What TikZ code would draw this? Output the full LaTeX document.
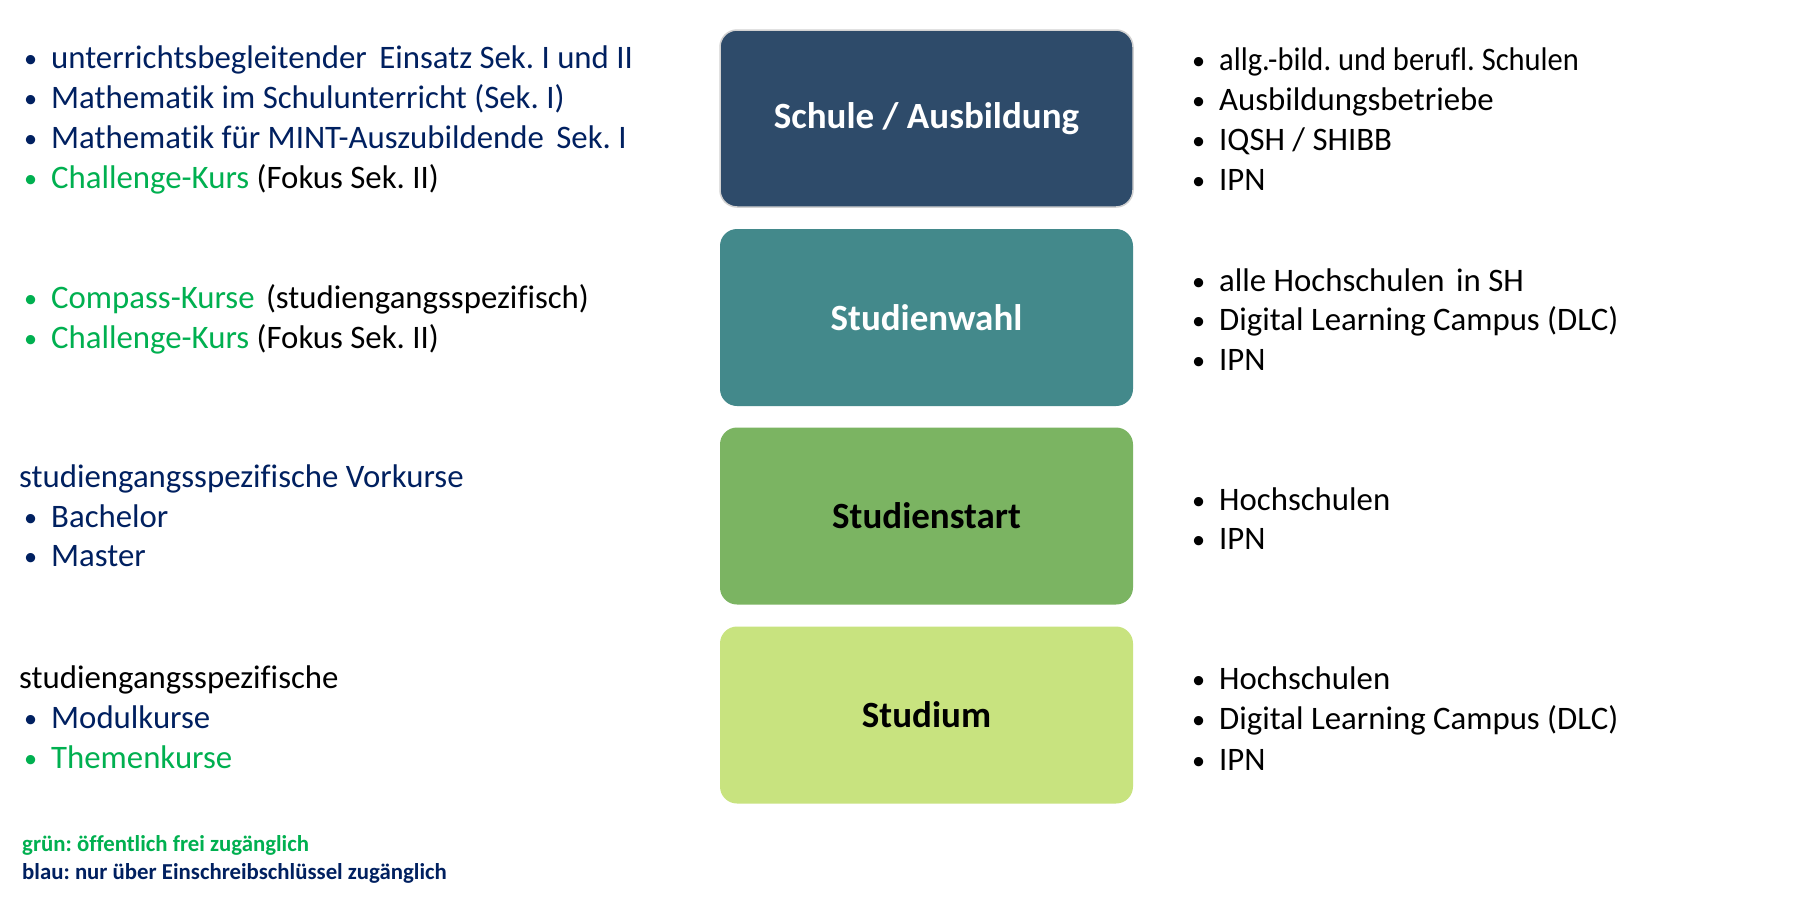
\documentclass[tikz,border=0pt]{standalone}
\usepackage{fontspec}
\setmainfont{Carlito}[Ligatures={NoCommon}]
\frenchspacing
\definecolor{navy}{RGB}{0,32,96}
\definecolor{grn}{RGB}{0,176,80}
\definecolor{boxA}{RGB}{46,75,106}
\definecolor{boxB}{RGB}{67,137,139}
\definecolor{boxC}{RGB}{123,180,98}
\definecolor{boxD}{RGB}{200,227,127}
\tikzset{
  stage/.style={rounded corners=17pt, minimum width=413pt, minimum height=177pt, inner sep=0pt, font=\fontsize{37}{40}\selectfont\bfseries},
  ltxt/.style={anchor=base west, inner sep=0pt, font=\fontsize{32.8}{38}\selectfont},
  legend/.style={anchor=base west, inner sep=0pt, font=\fontsize{22.8}{26}\selectfont\bfseries},
}
\newcommand{\lbul}[1]{\makebox[27pt][l]{\textcolor{#1}{\raisebox{1pt}{\scalebox{0.8}{•}}}}}
\newcommand{\rbul}{\makebox[27pt][l]{\raisebox{1pt}{\scalebox{0.8}{•}}}}
\begin{document}
\begin{tikzpicture}[x=1pt,y=1pt]
\useasboundingbox (0,0) rectangle (1818,-900);
\fill[white] (0,0) rectangle (1818,-900);
% stage boxes
\node[stage, fill=boxA, draw=gray!35, line width=1.5pt, text=white] (schule) at (926.5,-118.5) {Schule / Ausbildung};
\node[stage, fill=boxB, text=white] (wahl) at (926.5,-317.5) {Studienwahl};
\node[stage, fill=boxC, text=black] (start) at (926.5,-516) {Studienstart};
\node[stage, fill=boxD, text=black] (studium) at (926.5,-715) {Studium};
% left group 1
\node[ltxt, text=navy] (l11) at (24,-68) {\lbul{navy}unterrichtsbegleitender\hspace{5pt} Einsatz Sek. I und II};
\node[ltxt, text=navy] (l12) at (24,-108) {\lbul{navy}Mathematik im Schulunterricht (Sek. I)};
\node[ltxt, text=navy] (l13) at (24,-148) {\lbul{navy}Mathematik für MINT-Auszubildende\hspace{5pt} Sek. I};
\node[ltxt] (l14) at (24,-188) {\lbul{grn}\textcolor{grn}{Challenge-Kurs} (Fokus Sek. II)};
% left group 2
\node[ltxt] (l21) at (24,-308) {\lbul{grn}\textcolor{grn}{Compass-Kurse}\hspace{4pt} (studiengangsspezifisch)};
\node[ltxt] (l22) at (24,-348) {\lbul{grn}\textcolor{grn}{Challenge-Kurs} (Fokus Sek. II)};
% left group 3
\node[ltxt, text=navy] (l30) at (19,-487) {studiengangsspezifische Vorkurse};
\node[ltxt, text=navy] (l31) at (24,-527) {\lbul{navy}Bachelor};
\node[ltxt, text=navy] (l32) at (24,-566) {\lbul{navy}Master};
% left group 4
\node[ltxt] (l40) at (19,-688) {studiengangsspezifische};
\node[ltxt, text=navy] (l41) at (24,-728) {\lbul{navy}Modulkurse};
\node[ltxt, text=grn] (l42) at (24,-768) {\lbul{grn}Themenkurse};
% legend
\node[legend, text=grn] (leg1) at (22,-851) {grün: öffentlich frei zugänglich};
\node[legend, text=navy] (leg2) at (22,-879) {blau: nur über Einschreibschlüssel zugänglich};
% right group 1
\node[ltxt] (r11) at (1192,-70) {\rbul \scalebox{0.93}[1]{allg.-bild. und berufl. Schulen}};
\node[ltxt] (r12) at (1192,-110) {\rbul Ausbildungsbetriebe};
\node[ltxt] (r13) at (1192,-150) {\rbul IQSH / SHIBB};
\node[ltxt] (r14) at (1192,-190) {\rbul IPN};
% right group 2
\node[ltxt] (r21) at (1192,-291) {\rbul alle Hochschulen\hspace{4pt} in SH};
\node[ltxt] (r22) at (1192,-330) {\rbul Digital Learning Campus (DLC)};
\node[ltxt] (r23) at (1192,-370) {\rbul IPN};
% right group 3
\node[ltxt] (r31) at (1192,-510) {\rbul Hochschulen};
\node[ltxt] (r32) at (1192,-549) {\rbul IPN};
% right group 4
\node[ltxt] (r41) at (1192,-689) {\rbul Hochschulen};
\node[ltxt] (r42) at (1192,-729) {\rbul Digital Learning Campus (DLC)};
\node[ltxt] (r43) at (1192,-770) {\rbul IPN};
\end{tikzpicture}
\end{document}
